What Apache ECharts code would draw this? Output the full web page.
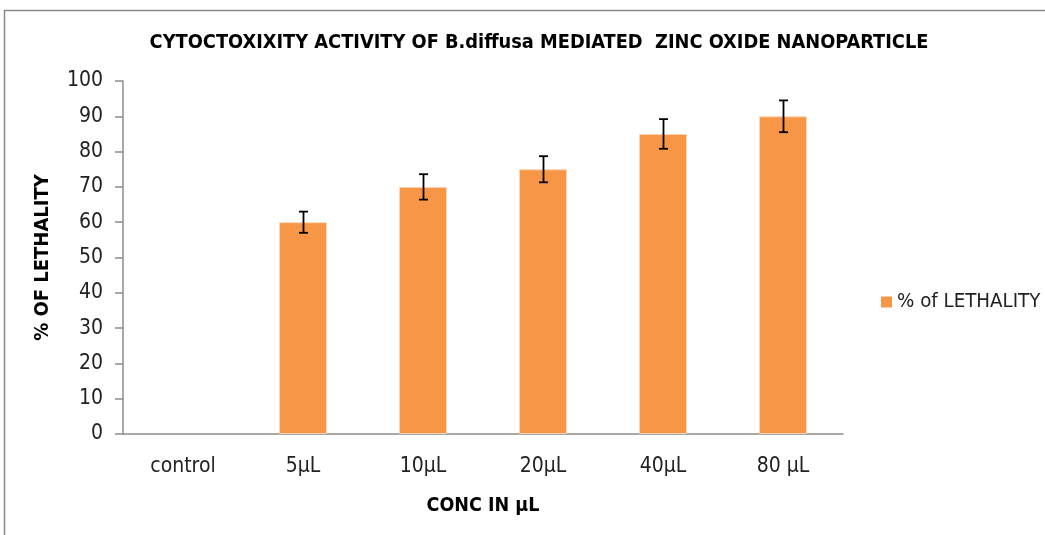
<!DOCTYPE html>
<html>
<head>
<meta charset="utf-8">
<script src="https://cdn.jsdelivr.net/npm/echarts@6/dist/echarts.min.js"></script>
<style>
  html, body { margin: 0; padding: 0; background: #fff; }
  #chart { width: 1045px; height: 535px; }
</style>
</head>
<body>
<div id="chart"></div>
<script>
// data
const categories = ['control', '5µL', '10µL', '20µL', '40µL', '80 µL']
const lethality = [null, 60, 70, 75, 85, 90]
const errors = [null, 3.0, 3.6, 3.7, 4.2, 4.5]
const yTicks = [0, 10, 20, 30, 40, 50, 60, 70, 80, 90, 100]

const font = '"Liberation Sans Narrow", "DejaVu Sans Condensed", "Liberation Sans", sans-serif'
const chart = echarts.init(document.getElementById('chart'))

const errData = lethality.map((v, i) => v == null ? [i, null, null] : [i, v - errors[i], v + errors[i]])

const option = {
  animation: false,
  title: {
    text: 'CYTOCTOXIXITY ACTIVITY OF B.diffusa MEDIATED  ZINC OXIDE NANOPARTICLE',
    left: 534,
    textAlign: 'center',
    top: 28,
    textStyle: { fontFamily: font, fontSize: 19.8, fontWeight: 'bold', color: '#000' }
  },
  graphic: [{
    type: 'polyline',
    shape: { points: [[4.5, 540], [4.5, 10.5], [1050, 10.5]] },
    style: { stroke: '#8a8a8a', lineWidth: 1.5, fill: null }
  }],
  legend: {
    left: 876,
    top: 287,
    itemWidth: 11,
    itemHeight: 11,
    itemGap: 5,
    itemStyle: { borderWidth: 0 },
    textStyle: { fontFamily: font, fontSize: 20.3, color: '#222' },
    data: [{ name: '% of LETHALITY', icon: 'rect' }]
  },
  grid: { left: 123, right: 202, top: 81, bottom: 101 },
  xAxis: {
    type: 'category',
    data: categories,
    name: 'CONC IN µL',
    nameLocation: 'middle',
    nameGap: 62,
    nameTextStyle: { fontFamily: font, fontSize: 19.5, fontWeight: 'bold', color: '#000' },
    axisLine: { lineStyle: { color: '#8c8c8c', width: 1.5 } },
    axisTick: { show: false },
    axisLabel: { fontFamily: font, fontSize: 21, color: '#222', margin: 22 }
  },
  yAxis: {
    type: 'value',
    min: yTicks[0],
    max: yTicks[yTicks.length - 1],
    interval: 10,
    name: '% OF LETHALITY',
    nameLocation: 'middle',
    nameGap: 70,
    nameRotate: 90,
    nameTextStyle: { fontFamily: font, fontSize: 20, fontWeight: 'bold', color: '#000' },
    axisLine: { show: true, lineStyle: { color: '#8c8c8c', width: 1.5 } },
    axisTick: { show: true, length: 8, lineStyle: { color: '#8c8c8c', width: 1.5 } },
    splitLine: { show: false },
    axisLabel: { fontFamily: font, fontSize: 21, color: '#222', margin: 20 }
  },
  series: [
    {
      name: '% of LETHALITY',
      type: 'bar',
      data: lethality,
      barWidth: '40%',
      itemStyle: { color: '#F79646', borderColor: '#fbd3b4', borderWidth: 1 }
    },
    {
      type: 'custom',
      name: 'error',
      data: errData,
      z: 10,
      renderItem: function (params, api) {
        if (api.value(1) == null || isNaN(api.value(1))) return
        const lo = api.coord([api.value(0), api.value(1)])
        const hi = api.coord([api.value(0), api.value(2)])
        const x = Math.round(lo[0]) + 0.5
        const w = 4.5
        const style = { stroke: '#000', lineWidth: 1.8 }
        return {
          type: 'group',
          children: [
            { type: 'line', shape: { x1: x, y1: hi[1], x2: x, y2: lo[1] }, style },
            { type: 'line', shape: { x1: x - w, y1: hi[1], x2: x + w, y2: hi[1] }, style },
            { type: 'line', shape: { x1: x - w, y1: lo[1], x2: x + w, y2: lo[1] }, style }
          ]
        }
      }
    }
  ]
}

chart.setOption(option)
</script>
</body>
</html>
